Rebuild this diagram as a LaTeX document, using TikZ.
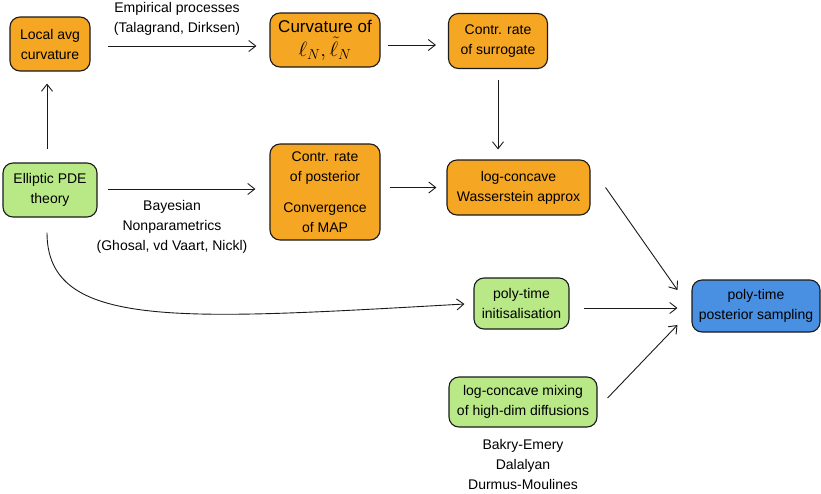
\documentclass[tikz,border=0pt]{standalone}
\usepackage{fontspec}
\setmainfont{Liberation Sans}
\usetikzlibrary{arrows.meta}
\definecolor{orangebox}{HTML}{F5A623}
\definecolor{greenbox}{HTML}{B8E986}
\definecolor{bluebox}{HTML}{4A90E2}
\definecolor{edgec}{HTML}{1A1A1A}
\begin{document}
\begin{tikzpicture}[x=1pt,y=-1pt,
  box/.style={draw=edgec, line width=1.1pt, rounded corners=10pt, align=center,
    inner sep=0pt, font=\fontsize{14}{20}\selectfont},
  orb/.style={box, fill=orangebox},
  grb/.style={box, fill=greenbox},
  blb/.style={box, fill=bluebox},
  lbl/.style={align=center, inner sep=0pt, font=\fontsize{14}{20}\selectfont},
  arr/.style={draw=edgec, line width=0.9pt, -{Straight Barb[length=7pt,width=11pt,line width=0.9pt]}},
  gap/.style={shorten <=#1},
  tgap/.style={shorten >=#1}
]
\useasboundingbox (0,0) rectangle (821,493);

% nodes
\node[orb, minimum width=80pt, minimum height=54pt] (loc) at (50,44) {Local avg\\curvature};
\node[orb, minimum width=110pt, minimum height=54pt, font=\fontsize{17}{26}\selectfont] (curv) at (325,40) {Curvature of\\[-2pt]{\fontsize{20}{20}\selectfont$\ell_N, \tilde{\ell}_N$}};
\node[orb, minimum width=99pt, minimum height=55pt] (surr) at (498,41) {Contr. rate\\of surrogate};
\node[grb, minimum width=94pt, minimum height=54pt] (ell) at (50,190) {Elliptic PDE\\theory};
\node[orb, minimum width=110pt, minimum height=96pt] (post) at (325,192) {Contr. rate\\of posterior\\[11pt]Convergence\\of MAP};
\node[orb, minimum width=143pt, minimum height=55pt] (wass) at (518.5,187.5) {log-concave\\Wasserstein approx};
\node[grb, minimum width=95pt, minimum height=51pt] (init) at (521.5,303.5) {poly-time\\initisalisation};
\node[blb, minimum width=128pt, minimum height=52pt] (samp) at (756,306) {poly-time\\posterior sampling};
\node[grb, minimum width=148pt, minimum height=50pt] (mix) at (523,402) {log-concave mixing\\of high-dim diffusions};

% labels
\node[lbl] (emp) at (177,18.5) {Empirical processes\\(Talagrand, Dirksen)};
\node[lbl] (bnp) at (172,226.5) {Bayesian\\Nonparametrics\\(Ghosal, vd Vaart, Nickl)};
\node[lbl] (bak) at (523,464.5) {Bakry-Emery\\Dalalyan\\Durmus-Moulines};

% connectors
\draw[arr, gap=17pt, tgap=13pt] ([yshift=-2pt]loc.east) -- ([yshift=-2pt]loc.east -| curv.west);
\draw[arr, gap=7pt, tgap=12pt] ([yshift=-5pt]curv.east) -- ([yshift=-5pt]curv.east -| surr.west);
\draw[arr, gap=11pt, tgap=10pt] (surr.south) -- (surr.south |- wass.north);
\draw[arr, gap=13pt, tgap=12pt] ([xshift=-3pt]ell.north) -- ([xshift=-3pt]ell.north |- loc.south);
\draw[arr, gap=10pt, tgap=14pt] ([yshift=1pt]ell.east) -- ([yshift=1pt]ell.east -| post.west);
\draw[arr, gap=9pt, tgap=10pt] (post.east |- wass.west) -- (wass.west);
\draw[arr] ([xshift=15pt]wass.east) -- ([xshift=-14pt,yshift=16pt]samp.west);
\draw[arr, gap=14pt, tgap=14pt] ([yshift=-4.5pt]init.east) -- ([yshift=-2pt]samp.west);
\draw[arr] ([xshift=10pt,yshift=4pt]mix.east) -- ([xshift=-14pt,yshift=-19pt]samp.west);
\draw[arr, gap=15pt, tgap=9pt] ([xshift=-3pt]ell.south) .. controls (47,330) and (180,320) .. (init.west);
\end{tikzpicture}
\end{document}
